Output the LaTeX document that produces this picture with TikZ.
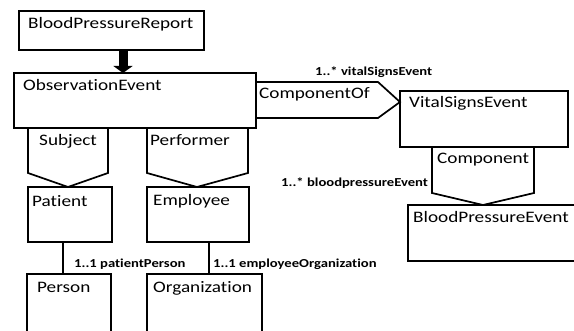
\documentclass[tikz,border=0pt]{standalone}
\usepackage{fontspec}
\setmainfont{Carlito}[FakeStretch=1.2,Ligatures={NoCommon}]
\usetikzlibrary{arrows.meta}
\tikzset{
  box/.style={draw, line width=1.7pt, rectangle, inner sep=0pt, outer sep=0pt, anchor=north west},
  conn/.style={draw, line width=1.7pt, line join=miter},
  title/.style={anchor=base west, inner sep=0pt, font=\fontsize{16}{17}\selectfont},
  role/.style={anchor=base west, inner sep=0pt, font=\fontsize{12.2}{13}\selectfont\bfseries},
}
\begin{document}
\begin{tikzpicture}[x=1pt,y=-1pt]
\useasboundingbox (0,0) rectangle (574,331);
\clip (0,0) rectangle (574,331);
% boxes
\node[box, minimum width=185pt, minimum height=39pt] (bpr) at (19,11) {};
\node[box, minimum width=242pt, minimum height=55pt] (obs) at (14,73) {};
\node[box, minimum width=168pt, minimum height=56pt] (vse) at (400,91) {};
\node[box, minimum width=190pt, minimum height=56pt] (bpe) at (408,205) {};
\node[box, minimum width=84pt, minimum height=55pt] (patient) at (28,187) {};
\node[box, minimum width=102pt, minimum height=55pt] (employee) at (147,187) {};
\node[box, minimum width=84pt, minimum height=60pt] (person) at (27,274) {};
\node[box, minimum width=115pt, minimum height=60pt] (org) at (147,274) {};
% titles
\node[title] (tbpr) at (28,29) {BloodPressureReport};
\node[title] (tobs) at (23,91) {ObservationEvent};
\node[title] (tvse) at (409,108) {VitalSignsEvent};
\node[title] (tbpe) at (413,223) {BloodPressureEvent};
\node[title] (tpat) at (32,207) {Patient};
\node[title] (temp) at (153,206) {Employee};
\node[title] (tper) at (37,293) {Person};
\node[title] (torg) at (153,293) {Organization};
% inheritance arrow
\draw[line width=9pt, -{Triangle[length=7pt,width=19pt]}] (bpr.south -| 123,0) -- (obs.north -| 123,0);
% participation shapes
\draw[conn] (obs.south -| 28,0) -- (28,173) -- (patient.north -| 68,0) -- (108,173) -- (obs.south -| 108,0);
\draw[conn] (obs.south -| 147,0) -- (147,173) -- (employee.north -| 197,0) -- (248,173) -- (obs.south -| 248,0);
\draw[conn] (obs.east |- 0,82) -- (378,82) -- (vse.west |- 0,102) -- (378,118) -- (obs.east |- 0,118);
\draw[conn] (vse.south -| 432,0) -- (432,193) -- (bpe.north -| 483,0) -- (534,193) -- (vse.south -| 534,0);
\node[title] (tsub) at (39,146) {Subject};
\node[title] (tperf) at (150,146) {Performer};
\node[title] (tcof) at (259,99) {ComponentOf};
\node[title] (tcomp) at (437,164) {Component};
% associations
\draw[conn] (patient.south -| 63,0) -- (person.north -| 63,0);
\draw[conn] (employee.south -| 209,0) -- (org.north -| 209,0);
% role labels
\node[role] (r1) at (315,76) {1..* vitalSignsEvent};
\node[role] (r2) at (281,187) {1..* bloodpressureEvent};
\node[role] (r3) at (74,268) {1..1 patientPerson};
\node[role] (r4) at (213,268) {1..1 employeeOrganization};
\end{tikzpicture}
\end{document}
